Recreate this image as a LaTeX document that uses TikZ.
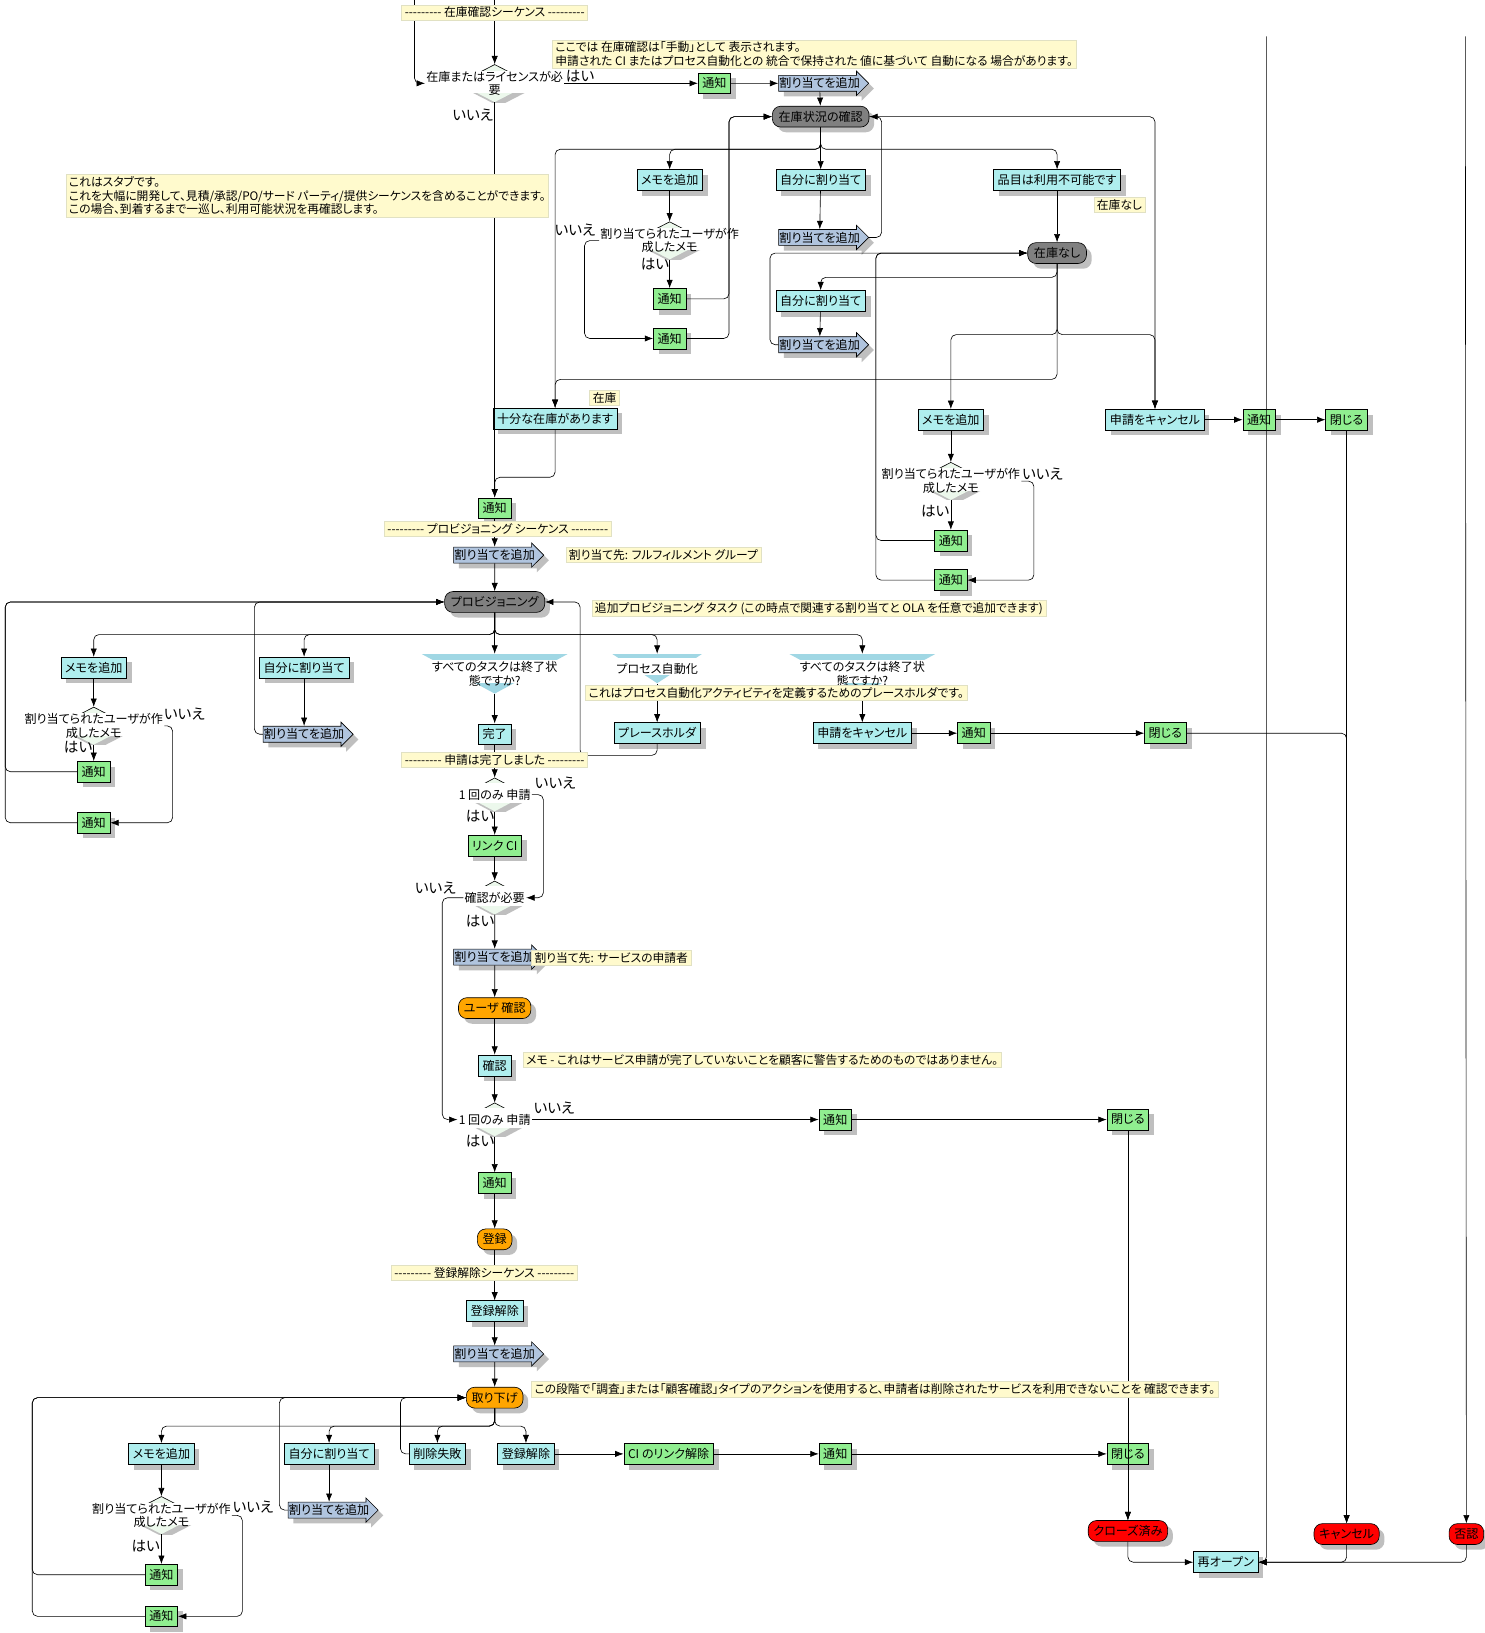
\documentclass[tikz,border=0pt]{standalone}
\usepackage{fontspec}
\setmainfont[RawFeature=+palt]{Noto Sans CJK JP}
\usetikzlibrary{shapes.arrows,shadows,arrows.meta,calc}

\definecolor{procfill}{RGB}{175,238,238}
\definecolor{ntffill}{RGB}{144,238,144}
\definecolor{asgfill}{RGB}{176,196,222}
\definecolor{stategray}{RGB}{128,128,128}
\definecolor{stateorange}{RGB}{255,165,0}
\definecolor{statered}{RGB}{255,0,0}
\definecolor{notefill}{RGB}{255,250,205}
\definecolor{noteline}{RGB}{225,225,195}
\definecolor{decfill}{RGB}{236,248,236}
\definecolor{tdecfill}{RGB}{160,215,228}

\newcommand{\dashes}{-{}-{}-{}-{}-{}-{}-{}-{}-}
\newcommand{\nodesize}{\fontsize{11.6}{13}\selectfont}
\newcommand{\notesize}{\fontsize{11.3}{13}\selectfont}
\newcommand{\labsize}{\fontsize{14}{14}\selectfont}

\tikzset{
  boxshadow/.style={drop shadow={shadow xshift=5pt,shadow yshift=-5pt,fill=black!25,opacity=1}},
  flowbox/.style={draw,line width=0.6pt,minimum height=20pt,inner xsep=4pt,inner ysep=2pt,boxshadow},
  proc/.style={flowbox,fill=procfill},
  ntf/.style={flowbox,fill=ntffill},
  gstate/.style={flowbox,fill=stategray,rounded corners=8pt,inner xsep=6pt},
  ostate/.style={flowbox,fill=stateorange,rounded corners=8pt,inner xsep=5pt},
  rstate/.style={flowbox,fill=statered,rounded corners=8pt,inner xsep=5pt},
  asg/.style={single arrow,draw,line width=0.6pt,fill=asgfill,single arrow head extend=4pt,inner xsep=0.5pt,inner ysep=2pt,boxshadow},
  note/.style={draw=noteline,fill=notefill,inner xsep=3pt,inner ysep=2pt,align=left,font=\notesize},
  lab/.style={inner sep=0pt,font=\labsize},
  conn/.style={->,rounded corners=5pt},
  dec/.style 2 args={inner xsep=1pt,inner ysep=0pt,align=center,minimum width=#1pt*2,minimum height=#2pt,
    path picture={
      \path (path picture bounding box.center) coordinate (pc);
      \fill[black!25] ([shift={(4pt,-4pt)}]pc) ++(-#1pt,0pt) -- ++(#1pt,-#2pt/2) -- ++(#1pt,#2pt/2) -- cycle;
      \fill[decfill] (pc) ++(-#1pt,0pt) -- ++(#1pt,#2pt/2) -- ++(#1pt,-#2pt/2) -- ++(-#1pt,-#2pt/2) -- cycle;
      \draw[line width=0.6pt] (pc) ++(-#1pt,0pt) -- ++(#1pt,#2pt/2) -- ++(#1pt,-#2pt/2);
      \fill[white] ($(path picture bounding box.south west)!0.24!(path picture bounding box.north west)$) rectangle ($(path picture bounding box.south east)!0.84!(path picture bounding box.north east)$);
    }},
  tdec/.style 2 args={inner xsep=1pt,inner ysep=0pt,align=center,minimum width=#1pt,minimum height=#2pt,
    path picture={
      \fill[tdecfill] (path picture bounding box.north west) -- (path picture bounding box.north east) -- (path picture bounding box.south) -- cycle;
      \fill[white] ($(path picture bounding box.south west)!0.28!(path picture bounding box.north west)$) rectangle ($(path picture bounding box.south east)!0.86!(path picture bounding box.north east)$);
    }}
}

\begin{document}
\begin{tikzpicture}[x=1pt,y=-1pt,>={Latex[length=8pt,width=6pt]},line width=0.6pt,font=\nodesize]
\useasboundingbox[fill=white] (0,0) rectangle (1425,1568);
%\draw[step=100,gray,very thin] (0,0) grid (1425,1568);

% stock check sequence
\node[dec={35}{36}] (D1) at (475,80) {在庫またはライセンスが必\\要};
\node[ntf] (ntf1) at (686,80) {通知};
\node[asg] (asg1) at (787,80) {割り当てを追加};
\node[gstate] (gchk) at (788,112) {在庫状況の確認};
\node[proc] (memo1) at (643,173) {メモを追加};
\node[proc] (self1) at (788,173) {自分に割り当て};
\node[proc] (unav) at (1015,173) {品目は利用不可能です};
\node[dec={35}{36}] (D2) at (643,231) {割り当てられたユーザが作\\成したメモ};
\node[ntf] (ntf2) at (643,287) {通知};
\node[ntf] (ntf3) at (643,325) {通知};
\node[asg] (asg2) at (787,228) {割り当てを追加};
\node[gstate] (nostock) at (1015,243) {在庫なし};
\node[proc] (self2) at (788,289) {自分に割り当て};
\node[asg] (asg3) at (787,331) {割り当てを追加};
\node[proc] (enough) at (533,402) {十分な在庫があります};
\node[proc] (memo2) at (913,403) {メモを追加};
\node[proc] (cancel1) at (1109,403) {申請をキャンセル};
\node[ntf] (ntf4) at (1209,403) {通知};
\node[ntf] (close1) at (1293,403) {閉じる};
\node[dec={35}{36}] (D3) at (913,462) {割り当てられたユーザが作\\成したメモ};
\node[ntf] (ntf5) at (913,519) {通知};
\node[ntf] (ntf6) at (913,557) {通知};
\node[ntf] (ntf7) at (475,488) {通知};

% provisioning sequence
\node[asg] (asg4) at (475,533) {割り当てを追加};
\node[gstate] (prov) at (475,578) {プロビジョニング};
\node[proc] (memo3) at (90,641) {メモを追加};
\node[proc] (self3) at (292,641) {自分に割り当て};
\node[tdec={140}{38}] (T1) at (475,647) {すべてのタスクは終了状\\態ですか?};
\node[tdec={86}{28}] (T2) at (631,642) {プロセス自動化};
\node[tdec={140}{38}] (T3) at (828,647) {すべてのタスクは終了状\\態ですか?};
\node[dec={35}{36}] (D7) at (90,697) {割り当てられたユーザが作\\成したメモ};
\node[ntf] (ntf8) at (90,741) {通知};
\node[ntf] (ntf9) at (90,790) {通知};
\node[asg] (asg5) at (292,705) {割り当てを追加};
\node[proc] (done) at (475,705) {完了};
\node[proc] (ph) at (631,704) {プレースホルダ};
\node[proc] (cancel2) at (828,704) {申請をキャンセル};
\node[ntf] (ntf10) at (935,704) {通知};
\node[ntf] (close2) at (1119,704) {閉じる};

% request completed
\node[dec={30}{32}] (D8) at (475,763) {1 回のみ 申請};
\node[ntf] (linkci) at (475,812) {リンク CI};
\node[dec={30}{32}] (D9) at (475,862) {確認が必要};
\node[asg] (asg6) at (475,919) {割り当てを追加};
\node[ostate] (ucfm) at (475,968) {ユーザ 確認};
\node[proc] (cfm) at (475,1023) {確認};
\node[dec={30}{32}] (D10) at (475,1075) {1 回のみ 申請};
\node[ntf] (ntf11) at (802,1075) {通知};
\node[ntf] (close3) at (1083,1075) {閉じる};
\node[ntf] (ntf12) at (475,1136) {通知};
\node[ostate] (reg) at (475,1190) {登録};

% deregistration sequence
\node[proc] (unreg1) at (475,1259) {登録解除};
\node[asg] (asg7) at (475,1300) {割り当てを追加};
\node[ostate] (wd) at (475,1342) {取り下げ};
\node[proc] (memo4) at (155,1396) {メモを追加};
\node[proc] (self4) at (316,1396) {自分に割り当て};
\node[proc] (delf) at (420,1396) {削除失敗};
\node[proc] (unreg2) at (505,1396) {登録解除};
\node[ntf] (unlink) at (642,1396) {CI のリンク解除};
\node[ntf] (ntf13) at (802,1396) {通知};
\node[ntf] (close4) at (1083,1396) {閉じる};
\node[dec={35}{36}] (D11) at (155,1455) {割り当てられたユーザが作\\成したメモ};
\node[asg] (asg8) at (316,1450) {割り当てを追加};
\node[ntf] (ntf14) at (155,1512) {通知};
\node[ntf] (ntf15) at (155,1552) {通知};
\node[rstate] (closed) at (1083,1470) {クローズ済み};
\node[rstate] (cncl) at (1293,1473) {キャンセル};
\node[rstate] (rej) at (1408,1473) {否認};
\node[proc] (reopen) at (1177,1500) {再オープン};

\coordinate (cA) at (398,0);
\coordinate (cB) at (475,0);
\coordinate (cC) at (1216,35);
\coordinate (cD) at (1407,35);
\coordinate (j1) at (700,112);
\coordinate (j4) at (841,300);
\coordinate (j5) at (5,700);
\coordinate (j6) at (557,650);
\coordinate (j7) at (31,1450);

% connectors
\draw[conn] (cA) |- (D1.west);
\draw[conn] (cB) -- (D1.north);
\draw[conn] (D1.east) -- (ntf1);
\draw[conn] (ntf1) -- (asg1);
\draw[conn] (asg1) -- (gchk);
\draw[conn] (D1.south) -- (ntf7);
\draw[conn] (gchk.south) -- ++(0,21) -| (memo1.north);
\draw[conn] (gchk) -- (self1);
\draw[conn] (gchk.south) -- ++(0,21) -| (unav.north);
\draw[conn] (gchk.south) -- ++(0,21) -| (enough.north);
\draw[conn] (gchk.east) -| (cancel1.north);
\draw[conn] (memo1) -- (D2);
\draw[conn] (D2.south) -- (ntf2);
\draw[conn] (D2.west) -- ++(-14,0) |- (ntf3.west);
\draw[conn] (ntf2.east) -| (j1) -- (gchk.west);
\draw[conn] (ntf3.east) -| (j1) -- (gchk.west);
\draw[conn] (self1) -- (asg2);
\draw[conn] (asg2.east) -- ++(12,0) |- (gchk.east);
\draw[conn] (unav) -- (nostock);
\draw[conn] (nostock.south) -- ++(0,13) -| (self2.north);
\draw[conn] (self2) -- (asg3);
\draw[conn] (asg3.west) -- ++(-8,0) |- (nostock.west);
\draw[conn] (nostock.south) -- ++(0,68) -| (memo2.north);
\draw[conn] (nostock.south) -- ++(0,68) -| (cancel1.north);
\draw[conn] (nostock.south) -- ++(0,111) -| (enough.north);
\draw[conn] (memo2) -- (D3);
\draw[conn] (D3.south) -- (ntf5);
\draw[conn] (D3.east) -- ++(12,0) |- (ntf6.east);
\draw[conn] (ntf5.west) -- (ntf5.west -| j4) |- (nostock.west);
\draw[conn] (ntf6.west) -- (ntf6.west -| j4) |- (nostock.west);
\draw[conn] (cancel1) -- (ntf4);
\draw[conn] (ntf4) -- (close1);
\draw[conn] (close1) -- (cncl);
\draw[conn] (enough.south) -- ++(0,46) -| (ntf7.north);
\draw[conn] (ntf7) -- (asg4);
\draw[conn] (asg4) -- (prov);
\draw[conn] (prov.south) -- ++(0,21) -| (memo3.north);
\draw[conn] (prov.south) -- ++(0,21) -| (self3.north);
\draw[conn] (prov) -- (T1);
\draw[conn] (prov.south) -- ++(0,21) -| (T2.north);
\draw[conn] (prov.south) -- ++(0,21) -| (T3.north);
\draw[conn] (memo3) -- (D7);
\draw[conn] (D7.south) -- (ntf8);
\draw[conn] (D7.east) -- ++(8,0) |- (ntf9.east);
\draw[conn] (ntf8.west) -- (ntf8.west -| j5) |- (prov.west);
\draw[conn] (ntf9.west) -- (ntf9.west -| j5) |- (prov.west);
\draw[conn] (self3) -- (asg5);
\draw[conn] (asg5.west) -- ++(-8,0) |- (prov.west);
\draw[conn] (T1) -- (done);
\draw[conn] (done) -- (D8);
\draw[conn] (T2) -- (ph);
\draw[conn] (ph.south) -- ++(0,11) -| (j6) |- (prov.east);
\draw[conn] (T3) -- (cancel2);
\draw[conn] (cancel2) -- (ntf10);
\draw[conn] (ntf10) -- (close2);
\draw[conn] (close2.east) -| (cncl.north);
\draw[conn] (D8.south) -- (linkci);
\draw[conn] (D8.east) -- ++(11,0) |- (D9.east);
\draw[conn] (linkci) -- (D9);
\draw[conn] (D9.south) -- (asg6);
\draw[conn] (D9.west) -- ++(-20,0) |- (D10.west);
\draw[conn] (asg6) -- (ucfm);
\draw[conn] (ucfm) -- (cfm);
\draw[conn] (cfm) -- (D10);
\draw[conn] (D10.east) -- (ntf11);
\draw[conn] (ntf11) -- (close3);
\draw[conn] (close3) -- (closed);
\draw[conn] (D10.south) -- (ntf12);
\draw[conn] (ntf12) -- (reg);
\draw[conn] (reg) -- (unreg1);
\draw[conn] (unreg1) -- (asg7);
\draw[conn] (asg7) -- (wd);
\draw[conn] (wd.south) -- ++(0,17) -| (memo4.north);
\draw[conn] (wd.south) -- ++(0,17) -| (self4.north);
\draw[conn] (wd.south) -- ++(0,17) -| (delf.north);
\draw[conn] (wd.south) -- ++(0,17) -| (unreg2.north);
\draw[conn] (unreg2) -- (unlink);
\draw[conn] (unlink) -- (ntf13);
\draw[conn] (ntf13) -- (close4);
\draw[conn] (close4) -- (closed);
\draw[conn] (delf.west) -- ++(-8,0) |- (wd.west);
\draw[conn] (self4) -- (asg8);
\draw[conn] (asg8.west) -- ++(-8,0) |- (wd.west);
\draw[conn] (memo4) -- (D11);
\draw[conn] (D11.south) -- (ntf14);
\draw[conn] (D11.east) -- ++(10,0) |- (ntf15.east);
\draw[conn] (ntf14.west) -- (ntf14.west -| j7) |- (wd.west);
\draw[conn] (ntf15.west) -- (ntf15.west -| j7) |- (wd.west);
\draw[conn] (closed.south) |- (reopen.west);
\draw[conn] (cncl.south) |- (reopen.east);
\draw[conn] (rej.south) |- (reopen.east);
\draw[conn] (cC) |- (reopen.east);
\draw[conn] (cD) -- (rej.north);

% yes / no
\node[lab] (yes1) at (557,73) {はい};
\node[lab] (no1) at (454,110) {いいえ};
\node[lab] (no2) at (552,221) {いいえ};
\node[lab] (yes2) at (629,254) {はい};
\node[lab] (no3) at (1001,455) {いいえ};
\node[lab] (yes3) at (898,491) {はい};
\node[lab] (no7) at (177,686) {いいえ};
\node[lab] (yes7) at (75,717) {はい};
\node[lab] (no8) at (533,752) {いいえ};
\node[lab] (yes8) at (461,784) {はい};
\node[lab] (no9) at (418,853) {いいえ};
\node[lab] (yes9) at (461,884) {はい};
\node[lab] (no10) at (532,1064) {いいえ};
\node[lab] (yes10) at (461,1096) {はい};
\node[lab] (no11) at (243,1447) {いいえ};
\node[lab] (yes11) at (140,1485) {はい};

% notes
\node[note] (nseq1) at (475,12) {\dashes\ 在庫確認シーケンス \dashes};
\node[note,anchor=west] (nmanual) at (530,52) {ここでは 在庫確認は「手動」として 表示されます。\\申請された CI またはプロセス自動化との 統合で保持された 値に基づいて 自動になる 場合があります。};
\node[note,anchor=west] (nstub) at (63,188) {これはスタブです。\\これを大幅に開発して、見積/承認/PO/サード パーティ/提供シーケンスを含めることができます。\\この場合、到着するまで一巡し、利用可能状況を再確認します。};
\node[note,anchor=west] (nnone) at (1050,197) {在庫なし};
\node[note,anchor=west] (nstock) at (566,382) {在庫};
\node[note] (nseq2) at (478,508) {\dashes\ プロビジョニング シーケンス \dashes};
\node[note,anchor=west] (nful) at (543,533) {割り当て先: フルフィルメント グループ};
\node[note,anchor=west] (nadd) at (568,584) {追加プロビジョニング タスク (この時点で関連する割り当てと OLA を任意で追加できます)};
\node[note,anchor=west] (nph) at (562,665) {これはプロセス自動化アクティビティを定義するためのプレースホルダです。};
\node[note] (nseq3) at (475,730) {\dashes\ 申請は完了しました \dashes};
\node[note,anchor=west] (nreq) at (510,920) {割り当て先: サービスの申請者};
\node[note,anchor=west] (nwarn) at (502,1018) {メモ - これはサービス申請が完了していないことを顧客に警告するためのものではありません。};
\node[note] (nseq4) at (465,1222) {\dashes\ 登録解除シーケンス \dashes};
\node[note,anchor=west] (nwd) at (510,1334) {この段階で「調査」または「顧客確認」タイプのアクションを使用すると、申請者は削除されたサービスを利用できないことを 確認できます。};
\end{tikzpicture}
\end{document}
